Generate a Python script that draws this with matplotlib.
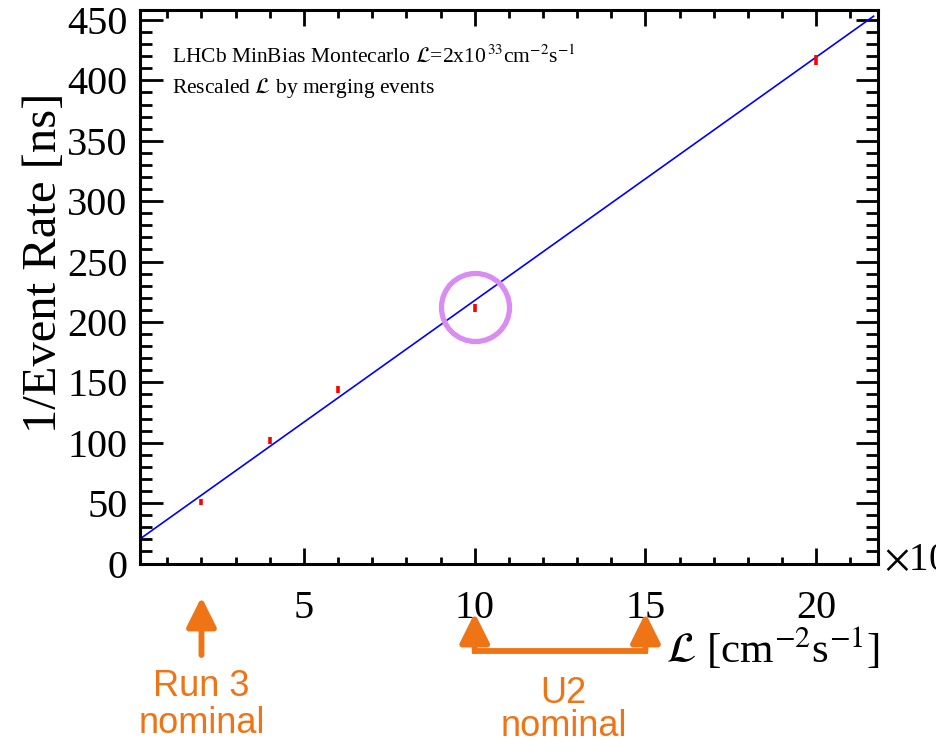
import numpy as np
import matplotlib
matplotlib.use("Agg")
import matplotlib.pyplot as plt
from matplotlib.ticker import MultipleLocator

plt.rcParams['font.family'] = ['Liberation Serif', 'DejaVu Serif']
plt.rcParams['mathtext.fontset'] = 'stix'

# ---- data ----
lumi = [2, 4, 6, 10, 20]                  # x 10^33 cm^-2 s^-1
inv_rate = [51.0, 101.9, 144.0, 211.3, 417.0]   # ns
inv_rate_err = [2.2, 2.8, 2.8, 3.2, 4.0]
fit_intercept = 16.3
fit_slope = 20.15
fit_range = [0.2, 21.68]
highlight = (10, 212)
run3_x = 2
u2_range = [10, 15]

xlim = (0.2, 21.8)
ylim = (0, 458.7)
orange = '#ef7415'

fig = plt.figure(figsize=(9.36, 7.45), dpi=100)
ax = fig.add_axes([140/936, 1-563.5/745, (877.7-140)/936, (563.5-9.5)/745])

xf = np.array(fit_range)
ax.plot(xf, fit_intercept + fit_slope*xf, color='#0000ff', lw=1.2, zorder=2)
ax.errorbar(lumi, inv_rate, yerr=inv_rate_err, fmt='none', ecolor='#ff0000',
            elinewidth=2.6, capsize=0, zorder=3)
ax.plot([highlight[0]], [highlight[1]], marker='o', ms=49, mfc='none',
        mec='#d98cf2', mew=3.8, zorder=4)

ax.set_xlim(*xlim)
ax.set_ylim(*ylim)
ax.xaxis.set_major_locator(MultipleLocator(5))
ax.xaxis.set_minor_locator(MultipleLocator(1))
ax.yaxis.set_major_locator(MultipleLocator(50))
ax.yaxis.set_minor_locator(MultipleLocator(10))
ax.tick_params(which='both', direction='in', top=True, right=True, width=2.0,
               labelsize=29, color='black')
ax.tick_params(axis='y', which='major', length=16.2, pad=9)
ax.tick_params(axis='y', which='minor', length=8.4)
ax.tick_params(axis='x', which='major', length=11.3, pad=19)
ax.tick_params(axis='x', which='minor', length=5.4)
for s in ax.spines.values():
    s.set_linewidth(2.2)

ax.set_ylabel('1/Event Rate [ns]', fontsize=35)
ax.yaxis.set_label_coords((66 - 140) / 737.7, (563.5 - 263) / 554.0)

fig.text(880/936, 1-663/745, r'$\mathcal{L}$ [cm$^{-2}$s$^{-1}$]', fontsize=31,
         ha='right', va='baseline')
fig.text(884/936, 1-561/745, r'$\times$10$^{33}$', fontsize=28, ha='left', va='center')

ax.text(0.043, 0.905, r'LHCb MinBias Montecarlo $\mathcal{L}$=2x10$^{\,33}$cm$^{-2}$s$^{-1}$',
        transform=ax.transAxes, fontsize=15.5, va='baseline')
ax.text(0.043, 0.85, r'Rescaled $\mathcal{L}$ by merging events',
        transform=ax.transAxes, fontsize=15.5, va='baseline')

# ---- orange annotations below the axis ----
tr = ax.get_xaxis_transform()
def fy(ypix):
    return (563.5 - ypix) / 554.0

aprops = dict(arrowstyle='-|>,head_length=1.5,head_width=0.75', mutation_scale=12,
              lw=4.2, color=orange, shrinkA=0, shrinkB=0)
ax.annotate('', xy=(run3_x, fy(597)), xytext=(run3_x, fy(655)), xycoords=tr,
            textcoords=tr, arrowprops=aprops, annotation_clip=False)
for xv in u2_range:
    ax.annotate('', xy=(xv, fy(613)), xytext=(xv, fy(651)), xycoords=tr,
                textcoords=tr, arrowprops=aprops, annotation_clip=False)
ax.plot(u2_range, [fy(651), fy(651)], transform=tr, color=orange, lw=4.2,
        clip_on=False, solid_capstyle='projecting')

ax.text(run3_x, fy(705), 'Run 3\nnominal', transform=tr, ha='center', va='center',
        fontsize=26, color=orange, family='Liberation Sans', linespacing=1.05)
ax.text(np.mean(u2_range) + 0.1, fy(710), 'U2\nnominal', transform=tr, ha='center',
        va='center', fontsize=26, color=orange, family='Liberation Sans', linespacing=0.95)

fig.savefig('out.png', dpi=100)
